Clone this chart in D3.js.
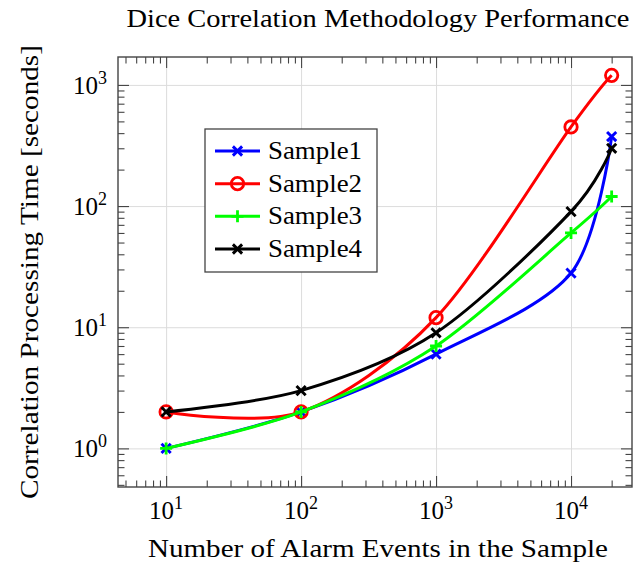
<!DOCTYPE html>
<html>
<head>
<meta charset="utf-8">
<script src="https://cdn.jsdelivr.net/npm/d3@7"></script>
<style>
  html, body { margin: 0; padding: 0; background: #fff; }
  svg { display: block; }
  text { font-family: "Liberation Serif", "DejaVu Serif", serif; fill: #000; }
</style>
</head>
<body>
<svg id="chart" width="634" height="563"></svg>
<script>
// ---------- data ----------
const xValues = [10, 100, 1000, 10000, 20000];
const sample1 = [1, 2, 6, 28, 375];
const sample2 = [2, 2, 12, 450, 1200];
const sample3 = [1, 2, 7, 60, 120];
const sample4 = [2, 3, 9, 90, 300];
const seriesNames = ["Sample1", "Sample2", "Sample3", "Sample4"];
const seriesColors = ["#0000ff", "#ff0000", "#00ff00", "#000000"];
const seriesMarks = ["x", "o", "+", "x"];
const xTickExps = [1, 2, 3, 4];
const yTickExps = [0, 1, 2, 3];
const titleText = "Dice Correlation Methodology Performance";
const xLabelText = "Number of Alarm Events in the Sample";
const yLabelText = "Correlation Processing Time [seconds]";

// ---------- layout ----------
const L = 118, R = 632, T = 57, B = 487;
const svg = d3.select("#chart");
const x = d3.scaleLog().domain([4.4, 28300]).range([L, R]);
const y = d3.scaleLog().domain([0.48, 1700]).range([B, T]);

const xMajor = xTickExps.map(e => Math.pow(10, e));
const yMajor = yTickExps.map(e => Math.pow(10, e));
function minors(scale) {
  const [d0, d1] = scale.domain();
  const out = [];
  for (let e = -2; e <= 6; e++) {
    for (let k = 2; k <= 9; k++) {
      const v = k * Math.pow(10, e);
      if (v >= d0 && v <= d1) out.push(v);
    }
  }
  return out;
}
const xMinor = minors(x);
const yMinor = minors(y);

// grid
const grid = svg.append("g");
grid.append("g").attr("transform", `translate(0,${B})`)
  .call(d3.axisBottom(x).tickValues(xMajor).tickSize(-(B - T)).tickFormat(""))
  .call(g => g.select(".domain").remove())
  .call(g => g.selectAll("line").attr("stroke", "#dcdcdc").attr("stroke-width", 1));
grid.append("g").attr("transform", `translate(${L},0)`)
  .call(d3.axisLeft(y).tickValues(yMajor).tickSize(-(R - L)).tickFormat(""))
  .call(g => g.select(".domain").remove())
  .call(g => g.selectAll("line").attr("stroke", "#dcdcdc").attr("stroke-width", 1));

// series
const allSeries = [sample1, sample2, sample3, sample4];
const line = d3.line()
  .x(d => x(d[0])).y(d => y(d[1]))
  .curve(d3.curveCardinal.tension(0.08));

function drawMark(g, type, cx, cy, color) {
  if (type === "o") {
    g.append("circle").attr("cx", cx).attr("cy", cy).attr("r", 6.2)
      .attr("fill", "none").attr("stroke", color).attr("stroke-width", 2.8);
  } else if (type === "x") {
    const s = 4.6;
    g.append("path")
      .attr("d", `M${cx - s},${cy - s}L${cx + s},${cy + s}M${cx - s},${cy + s}L${cx + s},${cy - s}`)
      .attr("stroke", color).attr("stroke-width", 2.9).attr("fill", "none");
  } else if (type === "+") {
    const s = 6;
    g.append("path")
      .attr("d", `M${cx - s},${cy}L${cx + s},${cy}M${cx},${cy - s}L${cx},${cy + s}`)
      .attr("stroke", color).attr("stroke-width", 2.8).attr("fill", "none");
  }
}

const plot = svg.append("g");
allSeries.forEach((vals, i) => {
  const pts = xValues.map((xv, j) => [xv, vals[j]]);
  const sg = plot.append("g");
  sg.append("path").attr("d", line(pts))
    .attr("fill", "none").attr("stroke", seriesColors[i])
    .attr("stroke-width", 3).attr("stroke-linejoin", "round");
  pts.forEach(p => drawMark(sg, seriesMarks[i], x(p[0]), y(p[1]), seriesColors[i]));
});

// axes frame & ticks (inward)
const axisColor = "#444";
function styleAxis(g) {
  g.select(".domain").remove();
  g.selectAll("line").attr("stroke", axisColor).attr("stroke-width", 1.1);
}
svg.append("g").attr("transform", `translate(0,${B})`)
  .call(d3.axisBottom(x).tickValues(xMajor).tickSize(-11).tickFormat("")).call(styleAxis);
svg.append("g").attr("transform", `translate(0,${B})`)
  .call(d3.axisBottom(x).tickValues(xMinor).tickSize(-6.5).tickFormat("")).call(styleAxis);
svg.append("g").attr("transform", `translate(0,${T})`)
  .call(d3.axisTop(x).tickValues(xMajor).tickSize(-11).tickFormat("")).call(styleAxis);
svg.append("g").attr("transform", `translate(0,${T})`)
  .call(d3.axisTop(x).tickValues(xMinor).tickSize(-6.5).tickFormat("")).call(styleAxis);
svg.append("g").attr("transform", `translate(${L},0)`)
  .call(d3.axisLeft(y).tickValues(yMajor).tickSize(-11).tickFormat("")).call(styleAxis);
svg.append("g").attr("transform", `translate(${L},0)`)
  .call(d3.axisLeft(y).tickValues(yMinor).tickSize(-6.5).tickFormat("")).call(styleAxis);
svg.append("g").attr("transform", `translate(${R},0)`)
  .call(d3.axisRight(y).tickValues(yMajor).tickSize(-11).tickFormat("")).call(styleAxis);
svg.append("g").attr("transform", `translate(${R},0)`)
  .call(d3.axisRight(y).tickValues(yMinor).tickSize(-6.5).tickFormat("")).call(styleAxis);
svg.append("rect").attr("x", L).attr("y", T).attr("width", R - L).attr("height", B - T)
  .attr("fill", "none").attr("stroke", axisColor).attr("stroke-width", 1.4);

// tick labels
const fs = 25;
function powLabel(sel, exp) {
  sel.append("tspan").text("10");
  sel.append("tspan").attr("dy", -10).attr("font-size", fs * 0.72).text(String(exp));
}
xTickExps.forEach(e => {
  const t = svg.append("text").attr("x", x(Math.pow(10, e))).attr("y", 519)
    .attr("text-anchor", "middle").attr("font-size", fs);
  powLabel(t, e);
});
yTickExps.forEach(e => {
  const t = svg.append("text").attr("x", 107).attr("y", y(Math.pow(10, e)) + 9)
    .attr("text-anchor", "end").attr("font-size", fs);
  powLabel(t, e);
});

// title & axis labels
svg.append("text").attr("x", 378).attr("y", 27).attr("text-anchor", "middle")
  .attr("font-size", 25).attr("textLength", 503).attr("lengthAdjust", "spacingAndGlyphs")
  .text(titleText);
svg.append("text").attr("x", 378).attr("y", 557).attr("text-anchor", "middle")
  .attr("font-size", 25).attr("textLength", 460).attr("lengthAdjust", "spacingAndGlyphs")
  .text(xLabelText);
svg.append("text").attr("transform", `translate(38,${(T + B) / 2}) rotate(-90)`)
  .attr("text-anchor", "middle")
  .attr("font-size", 25).attr("textLength", 454).attr("lengthAdjust", "spacingAndGlyphs")
  .text(yLabelText);

// legend
const lg = svg.append("g");
lg.append("rect").attr("x", 205).attr("y", 129).attr("width", 172).attr("height", 143)
  .attr("fill", "#fff").attr("stroke", axisColor).attr("stroke-width", 1.3);
const rowY = d3.scalePoint().domain(seriesNames).range([151, 249]);
seriesNames.forEach((name, i) => {
  const cy = rowY(name);
  lg.append("line").attr("x1", 215).attr("x2", 260).attr("y1", cy).attr("y2", cy)
    .attr("stroke", seriesColors[i]).attr("stroke-width", 3);
  drawMark(lg, seriesMarks[i], 237.5, cy, seriesColors[i]);
  lg.append("text").attr("x", 268).attr("y", cy + 8).attr("font-size", 26)
    .attr("textLength", 94).attr("lengthAdjust", "spacingAndGlyphs").text(name);
});
</script>
</body>
</html>
